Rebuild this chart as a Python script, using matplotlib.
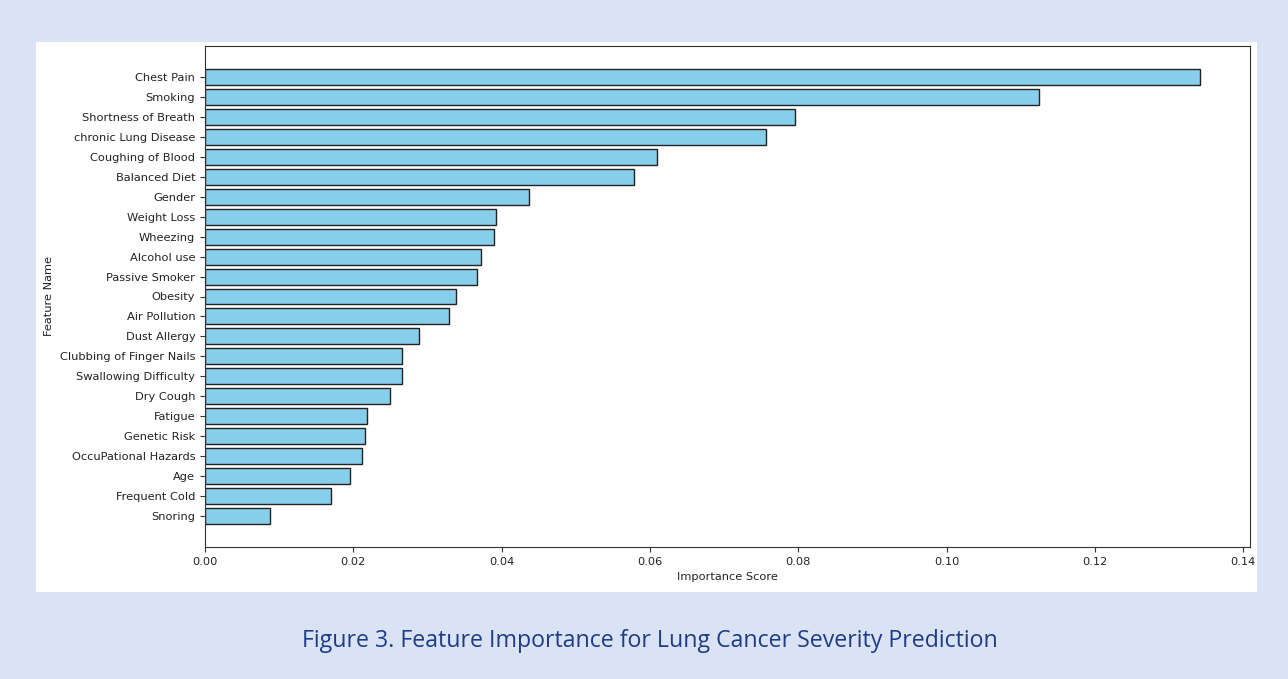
import matplotlib
matplotlib.use('Agg')
import matplotlib.pyplot as plt
from matplotlib.patches import Rectangle

# feature importance values
features = ['Chest Pain', 'Smoking', 'Shortness of Breath', 'chronic Lung Disease',
            'Coughing of Blood', 'Balanced Diet', 'Gender', 'Weight Loss', 'Wheezing',
            'Alcohol use', 'Passive Smoker', 'Obesity', 'Air Pollution', 'Dust Allergy',
            'Clubbing of Finger Nails', 'Swallowing Difficulty', 'Dry Cough', 'Fatigue',
            'Genetic Risk', 'OccuPational Hazards', 'Age', 'Frequent Cold', 'Snoring']
scores = [0.1342, 0.1124, 0.0796, 0.0757, 0.0610, 0.0578, 0.0437, 0.0393, 0.0390,
          0.0372, 0.0367, 0.0338, 0.0329, 0.0289, 0.0265, 0.0265, 0.0250, 0.0218,
          0.0216, 0.0212, 0.0196, 0.0170, 0.0087]

caption = 'Figure 3. Feature Importance for Lung Cancer Severity Prediction'

# ==================================================================
# figure with page-like background

fig = plt.figure(figsize=(12.88, 6.79), dpi=100, facecolor='#dae3f3')
fig.patches.append(Rectangle((36 / 1288, 1 - 592 / 679), 1221 / 1288, 550 / 679,
                             transform=fig.transFigure, facecolor='white',
                             edgecolor='none', zorder=-10))

ax = fig.add_axes([205 / 1288, 1 - 547 / 679, 1045 / 1288, 501 / 679])
ax.set_zorder(5)
ax.barh(features, scores, color='skyblue', edgecolor='#222222', linewidth=1)
ax.invert_yaxis()

for s in ax.spines.values():
    s.set_color('#333333')

ax.set_xlabel('Importance Score', fontsize=8.2, color='#222222')
ax.set_ylabel('Feature Name', fontsize=8.2, color='#222222')
ax.tick_params(labelsize=8.2, labelcolor='#222222', color='#333333')

fig.text(650 / 1288, 1 - 641 / 679, caption, ha='center', va='center',
         fontsize=16.7, color='#1f3c8a', family=['Open Sans', 'DejaVu Sans'])

plt.savefig('out.png', dpi=100, facecolor=fig.get_facecolor())
